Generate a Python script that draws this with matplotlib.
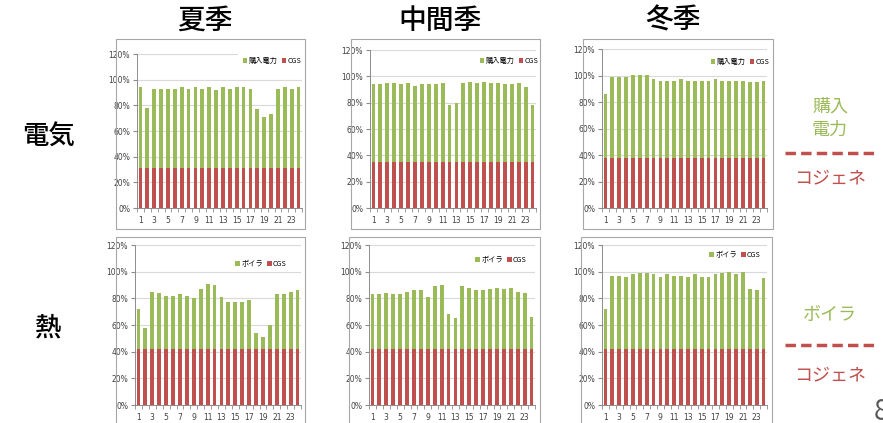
"""Hourly share of electricity and heat supply (CGS vs grid / boiler) by season."""

import matplotlib
matplotlib.use('Agg')
import matplotlib.pyplot as plt
from matplotlib import font_manager
from matplotlib.patches import Rectangle
from matplotlib.lines import Line2D
from matplotlib.ticker import PercentFormatter

plt.rcParams['font.family'] = ['Noto Sans CJK JP', 'DejaVu Sans']

hours = list(range(1, 25))
seasons = ['夏季', '中間季', '冬季']
rows = ['電気', '熱']

# electricity: CGS share (constant per season) and total covered (%)
elec_cgs = [31, 35, 38]
elec_total_summer = [94, 78, 93, 93, 93, 93, 94, 93, 94, 93, 94, 92,
                     94, 93, 94, 94, 93, 77, 71, 73, 93, 94, 93, 94]
elec_total_mid = [94, 94, 95, 95, 94, 95, 93, 94, 94, 94, 95, 78,
                  80, 95, 96, 95, 96, 95, 95, 94, 94, 95, 92, 78]
elec_total_winter = [86, 99, 99, 99, 100, 100, 100, 97, 96, 96, 96, 97,
                     96, 96, 96, 96, 97, 96, 96, 96, 96, 95, 95, 96]

# heat: CGS share and total covered (%)
heat_cgs = [42, 42, 42]
heat_total_summer = [72, 58, 85, 84, 82, 82, 83, 82, 80, 87, 91, 90,
                     81, 77, 77, 77, 79, 54, 51, 60, 83, 83, 85, 86]
heat_total_mid = [83, 83, 84, 83, 83, 85, 86, 86, 81, 89, 90, 68,
                  65, 89, 88, 86, 86, 87, 88, 87, 88, 85, 84, 66]
heat_total_winter = [72, 97, 97, 96, 98, 99, 99, 98, 96, 98, 97, 97,
                     96, 98, 96, 96, 98, 99, 100, 98, 100, 87, 86, 95]

elec_totals = [elec_total_summer, elec_total_mid, elec_total_winter]
heat_totals = [heat_total_summer, heat_total_mid, heat_total_winter]
top_labels = ['購入電力', 'ボイラ']

GREEN = '#9bbb59'
RED = '#c0504d'
W, H = 883, 423

try:
    font_manager.findfont('Liberation Sans Narrow', fallback_to_default=False)
    NARROW = 'Liberation Sans Narrow'
except ValueError:
    NARROW = 'DejaVu Sans'

fig = plt.figure(figsize=(W / 100, H / 100), dpi=100)


def px_rect(x0, x1, y0, y1):
    """Pixel box (top-left origin) -> figure fraction [l, b, w, h]."""
    return [x0 / W, 1 - y1 / H, (x1 - x0) / W, (y1 - y0) / H]


# axes areas (x0, x1, y_top, y_bottom) and chart boxes, in pixels
axes_px = [
    [(137, 302, 54, 208), (370, 536, 50, 208), (602, 767, 49, 208)],
    [(135, 301, 245, 405), (369, 535, 245, 405), (602, 767, 245, 405)],
]
boxes_px = [
    [(116, 305, 39, 229), (351, 540, 39, 229), (583, 773, 39, 229)],
    [(116, 305, 237, 430), (349, 540, 237, 430), (581, 772, 237, 430)],
]
legend_px = [
    [(272, 61), (509, 61), (740, 62)],
    [(261, 264), (501, 260), (735, 255)],
]

for r in range(2):
    cgs_list = elec_cgs if r == 0 else heat_cgs
    totals = elec_totals if r == 0 else heat_totals
    for c in range(3):
        bx = boxes_px[r][c]
        fig.add_artist(Rectangle((bx[0] / W, 1 - bx[3] / H), (bx[1] - bx[0]) / W,
                                 (bx[3] - bx[2]) / H, transform=fig.transFigure,
                                 facecolor='none', edgecolor='#a6a6a6', lw=0.8))
        ax = fig.add_axes(px_rect(*axes_px[r][c]))
        cgs = [cgs_list[c]] * len(hours)
        top = [t - cg for t, cg in zip(totals[c], cgs)]
        ax.bar(hours, top, bottom=cgs, width=0.55, color=GREEN,
               label=top_labels[r], zorder=3)
        ax.bar(hours, cgs, width=0.55, color=RED, label='CGS', zorder=3)
        ax.set_xlim(0.5, 24.5)
        ax.set_ylim(0, 120)
        ax.set_yticks(range(0, 121, 20))
        ax.yaxis.set_major_formatter(PercentFormatter(decimals=0))
        ax.set_xticks(range(1, 25, 2))
        ax.set_xticks([h + 0.5 for h in range(0, 25)], minor=True)
        ax.tick_params(axis='x', which='major', length=0, pad=6)
        ax.tick_params(axis='x', which='minor', length=3, color='#8c8c8c')
        ax.tick_params(axis='y', length=3, color='#8c8c8c', pad=2)
        for lab in ax.get_xticklabels() + ax.get_yticklabels():
            lab.set_fontfamily(NARROW)
            lab.set_fontsize(5.5)
            lab.set_color('#404040')
        ax.grid(axis='y', color='#d9d9d9', lw=0.8, zorder=0)
        for side in ['top', 'right']:
            ax.spines[side].set_visible(False)
        ax.spines['left'].set_color('#8c8c8c')
        ax.spines['bottom'].set_color('#8c8c8c')
        ax.spines['left'].set_linewidth(0.7)
        ax.spines['bottom'].set_linewidth(0.7)
        lx, ly = legend_px[r][c]
        handles, labels = ax.get_legend_handles_labels()
        ax.legend(handles, labels, loc='center', ncol=2,
                  bbox_to_anchor=(lx / W, 1 - ly / H),
                  bbox_transform=fig.transFigure, fontsize=5.2,
                  handlelength=0.6, handleheight=0.6, handletextpad=0.2,
                  columnspacing=0.6, borderpad=0.6, frameon=True,
                  facecolor='white', edgecolor='none', framealpha=1)

# column titles and row labels
for x, s in zip([205, 440, 673], seasons):
    fig.text(x / W, 1 - 20 / H, s, fontsize=20, fontweight='medium',
             ha='center', va='center')
for y, s in zip([137, 328], rows):
    fig.text(48 / W, 1 - y / H, s, fontsize=19, fontweight='medium',
             ha='center', va='center')

# side legend
fig.text(830 / W, 1 - 118 / H, '購入\n電力', fontsize=13, color=GREEN,
         ha='center', va='center', linespacing=1.35)
fig.text(830 / W, 1 - 178 / H, 'コジェネ', fontsize=13, color=RED,
         ha='center', va='center')
fig.text(830 / W, 1 - 315 / H, 'ボイラ', fontsize=13, color=GREEN,
         ha='center', va='center')
fig.text(830 / W, 1 - 375 / H, 'コジェネ', fontsize=13, color=RED,
         ha='center', va='center')
for y in [153, 345]:
    fig.add_artist(Line2D([785 / W, 875 / W], [1 - y / H, 1 - y / H],
                          color=RED, lw=2.5, ls=(0, (3, 1.5))))

# page number, partly cut by the right edge as in the slide
fig.text(874 / W, 1 - 412 / H, '8', fontsize=20, color='#595959',
         ha='left', va='center')

fig.savefig('out.png', dpi=100)
